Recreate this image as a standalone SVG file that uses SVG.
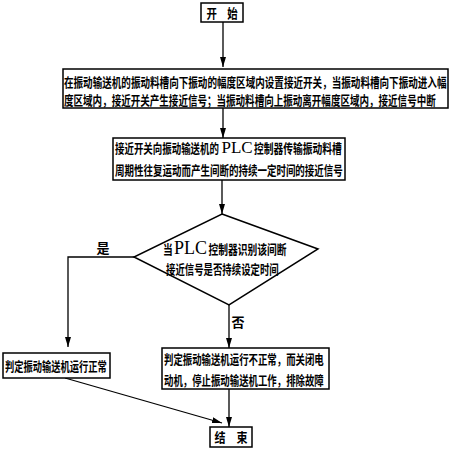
<svg xmlns="http://www.w3.org/2000/svg" width="451" height="450" viewBox="0 0 451 450">
<defs>
<marker id="ah" markerWidth="10" markerHeight="6" refX="10" refY="3" orient="auto" markerUnits="userSpaceOnUse">
<path d="M0,0 L10,3 L0,6 Z" fill="#000"/>
</marker>
<style>
.box{fill:#fff;stroke:#000;stroke-width:1.5}
.t{font-family:"Noto Sans CJK SC","Noto Sans CJK JP",sans-serif;font-size:13px;font-weight:bold;fill:#000}
.p{font-family:"Liberation Serif",serif;font-size:17px;font-weight:normal;fill:#000}
.c{fill:none;stroke:#000;stroke-width:1.3}
</style>
</defs>
<rect width="451" height="450" fill="#fff"/>
<g id="connectors">
<line class="c" x1="223" y1="22" x2="223" y2="67" marker-end="url(#ah)"/>
<line class="c" x1="223" y1="108" x2="223" y2="138" marker-end="url(#ah)"/>
<line class="c" x1="222" y1="180" x2="222" y2="214" marker-end="url(#ah)"/>
<polyline class="c" points="134,257 68,257 68,347" marker-end="url(#ah)"/>
<line class="c" x1="229" y1="305" x2="229" y2="348" marker-end="url(#ah)"/>
<line class="c" x1="229" y1="389" x2="229" y2="427" marker-end="url(#ah)"/>
<line class="c" x1="65" y1="378" x2="222" y2="423" marker-end="url(#ah)"/>
<text class="t" x="103" y="253" text-anchor="middle">是</text>
<text class="t" x="238" y="327" text-anchor="middle">否</text>
</g>
<g id="start">
<rect class="box" x="201" y="3" width="42" height="19"/>
<text class="t" transform="translate(222,17.5) scale(0.8,1)" text-anchor="middle">开　始</text>
</g>
<g id="step1">
<rect class="box" x="63" y="69" width="385" height="39"/>
<text class="t" transform="translate(64,87) scale(0.736,1)">在振动输送机的振动料槽向下振动的幅度区域内设置接近开关，当振动料槽向下振动进入幅</text>
<text class="t" transform="translate(64,105) scale(0.734,1)">度区域内，接近开关产生接近信号；当振动料槽向上振动离开幅度区域内，接近信号中断</text>
</g>
<g id="step2">
<rect class="box" x="113" y="138" width="232" height="42"/>
<text class="t" transform="translate(115,153) scale(0.727,1)">接近开关向振动输送机的</text>
<text class="p" x="221.5" y="153">PLC</text>
<text class="t" transform="translate(254,153) scale(0.75,1)">控制器传输振动料槽</text>
<text class="t" transform="translate(115,175) scale(0.731,1)">周期性往复运动而产生间断的持续一定时间的接近信号</text>
</g>
<g id="decision">
<polygon class="box" points="222,214 318,249 229,305 134,257"/>
<text class="t" transform="translate(163,254) scale(0.75,1)">当</text>
<text class="p" x="174" y="254" style="font-size:18px">PLC</text>
<text class="t" transform="translate(208.5,254) scale(0.75,1)">控制器识别该间断</text>
<text class="t" transform="translate(166,274) scale(0.724,1)">接近信号是否持续设定时间</text>
</g>
<g id="normal">
<rect class="box" x="3" y="353" width="107" height="25"/>
<text class="t" transform="translate(5,370.5) scale(0.713,1)">判定振动输送机运行正常</text>
</g>
<g id="abnormal">
<rect class="box" x="162" y="348" width="167" height="41"/>
<text class="t" transform="translate(164,364) scale(0.724,1)">判定振动输送机运行不正常，而关闭电</text>
<text class="t" transform="translate(164,385) scale(0.724,1)">动机，停止振动输送机工作，排除故障</text>
</g>
<g id="end">
<rect class="box" x="210" y="427" width="42" height="20"/>
<text class="t" transform="translate(231,441.5) scale(0.85,1)" text-anchor="middle">结　束</text>
</g>
</svg>
